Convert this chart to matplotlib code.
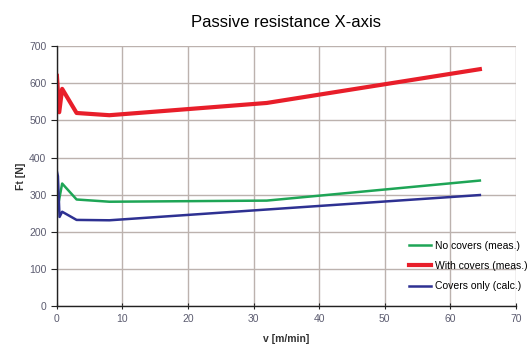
import matplotlib
matplotlib.use("Agg")
import matplotlib.pyplot as plt

plt.rcParams["font.family"] = ["Liberation Sans", "DejaVu Sans"]

# Passive resistance measurements along the X-axis
v_no_covers = [0, 0.8, 3, 8, 32, 64.5]
ft_no_covers = [255, 330, 287, 281, 284, 338]

v_with_covers = [0, 0.35, 0.8, 3, 8, 32, 64.5]
ft_with_covers = [620, 522, 585, 520, 514, 547, 638]

v_covers_only = [0, 0.15, 0.4, 0.8, 3, 8, 32, 64.5]
ft_covers_only = [362, 350, 240, 254, 232, 231, 260, 299]

x_ticks = [0, 10, 20, 30, 40, 50, 60, 70]
y_ticks = [0, 100, 200, 300, 400, 500, 600, 700]

fig = plt.figure(figsize=(5.27, 3.47), dpi=100)
ax = fig.add_axes([0.108, 0.118, 0.871, 0.749])

ax.plot(v_no_covers, ft_no_covers, color="#1ea556", lw=1.8, label="No covers (meas.)")
ax.plot(v_with_covers, ft_with_covers, color="#e81e2a", lw=3.0, label="With covers (meas.)")
ax.plot(v_covers_only, ft_covers_only, color="#2e3192", lw=1.8, label="Covers only (calc.)")

ax.set_xlim(0, 70)
ax.set_ylim(0, 700)
ax.set_xticks(x_ticks)
ax.set_yticks(y_ticks)
ax.grid(True, color="#bcb2ae", lw=1.0)
ax.set_axisbelow(True)

for side in ("top", "right"):
    ax.spines[side].set_visible(False)
for side in ("left", "bottom"):
    ax.spines[side].set_color("#222222")
    ax.spines[side].set_linewidth(1.0)

ax.tick_params(axis="both", labelsize=7.5, labelcolor="#5c5c70", color="#222222",
               length=4, width=0.8)
ax.tick_params(axis="x", direction="inout", pad=4)

ax.set_xlabel("v [m/min]", fontsize=7.5, fontweight="bold", color="#333333", labelpad=7)
ax.set_ylabel("Ft [N]", fontsize=7.5, fontweight="bold", color="#333333", labelpad=2)
ax.set_title("Passive resistance X-axis", fontsize=12, pad=14)

leg = ax.legend(loc="lower right", frameon=False, fontsize=7.5, handlelength=2.2,
                handletextpad=0.3, labelspacing=1.0, bbox_to_anchor=(1.045, 0.02))

fig.savefig("out.png", dpi=100)
